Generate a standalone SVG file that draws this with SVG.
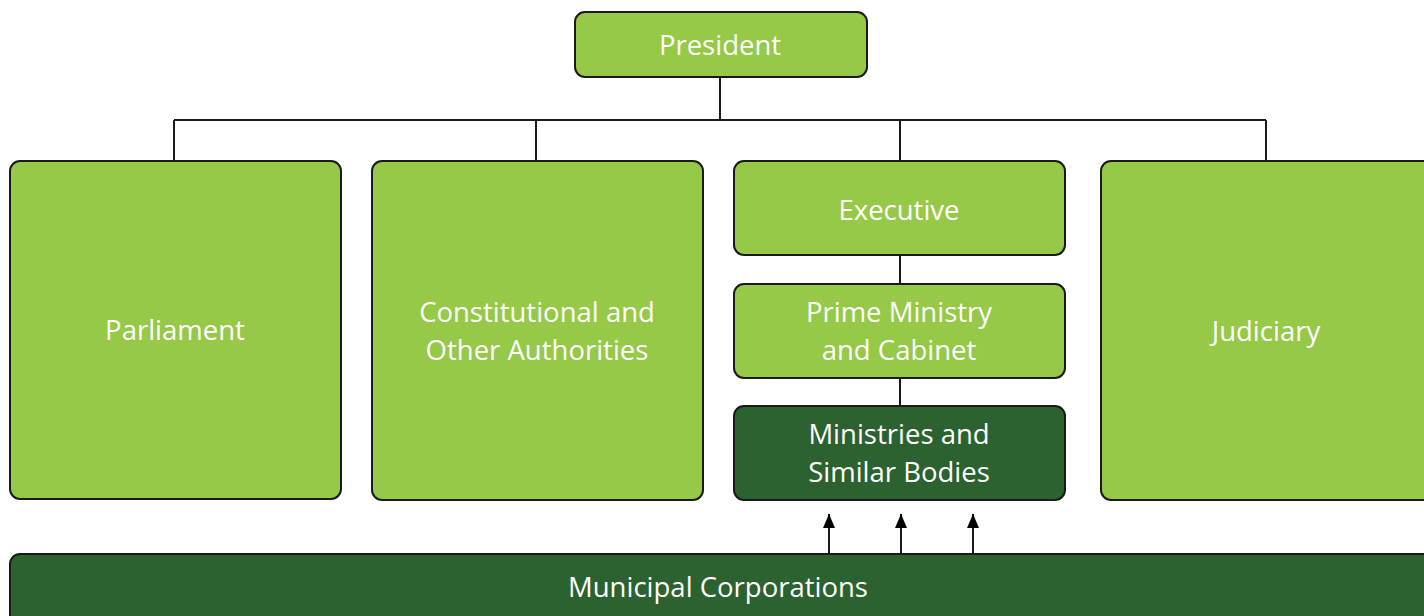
<svg xmlns="http://www.w3.org/2000/svg" width="1424" height="616" viewBox="0 0 1424 616">
<style>
.n{fill:#95c947;stroke:#1a1a1a;stroke-width:2}
.d{fill:#2c6130;stroke:#1a1a1a;stroke-width:2}
.t{fill:#fff;font-family:"Open Sans","Liberation Sans",sans-serif;font-size:27.5px;text-anchor:middle}
.c{stroke:#1a1a1a;stroke-width:2;fill:none}
</style>
<defs>
<marker id="ah" viewBox="0 0 14 12" refX="14" refY="6" markerWidth="14" markerHeight="12" markerUnits="userSpaceOnUse" orient="auto"><path d="M0,0 L14,6 L0,12 z" fill="#000"/></marker>
</defs>
<g id="connectors">
<path class="c" d="M720,77 V120 M174,120 H1266 M174,120 V161 M536,120 V161 M900,120 V161 M1266,120 V161 M900,255 V284 M900,378 V406"/>
<path class="c" d="M829,554 V514" marker-end="url(#ah)"/>
<path class="c" d="M901,554 V514" marker-end="url(#ah)"/>
<path class="c" d="M973,554 V514" marker-end="url(#ah)"/>
</g>
<g id="president"><rect class="n" x="575" y="12" width="292" height="65" rx="10"/><text class="t" x="720" y="55">President</text></g>
<g id="parliament"><rect class="n" x="10" y="161" width="331" height="338" rx="10"/><text class="t" x="175" y="340">Parliament</text></g>
<g id="constitutional"><rect class="n" x="372" y="161" width="331" height="339" rx="10"/><text class="t" x="537" y="322">Constitutional and</text><text class="t" x="537" y="360">Other Authorities</text></g>
<g id="executive"><rect class="n" x="734" y="161" width="331" height="94" rx="10"/><text class="t" x="899" y="220">Executive</text></g>
<g id="prime"><rect class="n" x="734" y="284" width="331" height="94" rx="10"/><text class="t" x="899" y="322">Prime Ministry</text><text class="t" x="899" y="360">and Cabinet</text></g>
<g id="ministries"><rect class="d" x="734" y="406" width="331" height="94" rx="10"/><text class="t" x="899" y="444">Ministries and</text><text class="t" x="899" y="482">Similar Bodies</text></g>
<g id="judiciary"><rect class="n" x="1101" y="161" width="340" height="339" rx="10"/><text class="t" x="1266" y="341">Judiciary</text></g>
<g id="municipal"><rect class="d" x="10" y="554" width="1440" height="80" rx="10"/><text class="t" x="718" y="597">Municipal Corporations</text></g>
</svg>
